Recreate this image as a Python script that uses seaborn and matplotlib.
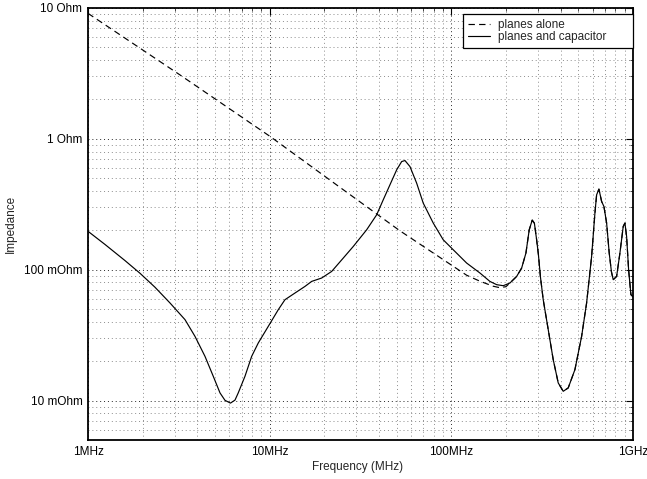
import numpy as np
import pandas as pd
import matplotlib
matplotlib.use("Agg")
import matplotlib.pyplot as plt
import matplotlib.ticker as mticker
import seaborn as sns

# Frequency (MHz) and impedance (Ohm) of the power planes with a decoupling capacitor
freq_cap = [1.000, 1.2405, 1.5979, 1.9325, 2.3373, 2.8276, 3.4197, 3.8810, 4.4051,
            4.8931, 5.3285, 5.6754, 6.0831, 6.4433, 6.7143, 7.3115, 7.9603, 8.6553,
            9.8243, 11.153, 12.139, 13.785, 15.643, 17.024, 19.325, 21.941, 25.417,
            28.851, 34.19, 38.81, 42.19, 45.93, 50.02, 53.29, 55.56, 59.18, 64.43,
            70.03, 79.51, 90.23, 102.44, 121.4, 143.7, 163.1, 177.6, 193.1, 210.2,
            228.8, 243.8, 257.4, 268.4, 278.8, 286.6, 294.8, 301.6, 309.3, 320.5,
            341.5, 363.8, 387.6, 413.0, 439.9, 478.9, 521.4, 555.4, 591.8, 617.2,
            630.6, 649.3, 671.9, 691.8, 715.8, 739.8, 760.7, 778.3, 812.5, 847.2,
            883.4, 902.6, 922.2, 945.9, 974.0, 1000.0]
z_cap = [0.1967, 0.1560, 0.1175, 0.0940, 0.0735, 0.0557, 0.04155, 0.03096, 0.02179,
         0.01533, 0.01145, 0.01005, 0.00957, 0.01009, 0.01145, 0.01533, 0.02179,
         0.02757, 0.03692, 0.04952, 0.05902, 0.0664, 0.07457, 0.08143, 0.08643,
         0.09705, 0.1228, 0.1506, 0.2020, 0.2629, 0.3423, 0.4456, 0.5800, 0.6710,
         0.6830, 0.6146, 0.4590, 0.3230, 0.2273, 0.1694, 0.1421, 0.1125, 0.0944,
         0.0814, 0.0769, 0.0755, 0.0792, 0.0889, 0.1030, 0.1341, 0.2020, 0.2395,
         0.2265, 0.1694, 0.1302, 0.0884, 0.0590, 0.03483, 0.02056, 0.01365, 0.01178,
         0.01250, 0.01724, 0.03096, 0.0557, 0.1263, 0.2709, 0.3737, 0.4130, 0.3322,
         0.3042, 0.2273, 0.1341, 0.0966, 0.0839, 0.0889, 0.1341, 0.2141, 0.2273,
         0.1796, 0.1000, 0.0645, 0.0622]

# Planes alone: capacitive slope down to the first plane resonance, identical above it
freq_planes = [1.0, 3.209, 10.04, 24.37, 52.13, 92.2, 121.4, 143.7, 170.1, 185.1,
               199.7] + freq_cap[46:]
z_planes = [9.10, 3.08, 1.045, 0.4263, 0.1984, 0.1171, 0.0908, 0.0817, 0.0748,
            0.0729, 0.0742] + z_cap[46:]

x_ticks = [1, 10, 100, 1000]
x_tick_labels = ["1MHz", "10MHz", "100MHz", "1GHz"]
y_ticks = [0.01, 0.1, 1, 10]
y_tick_labels = ["10 mOhm", "100 mOhm", "1 Ohm", "10 Ohm"]

df_cap = pd.DataFrame({"freq": freq_cap, "z": z_cap})
df_planes = pd.DataFrame({"freq": freq_planes, "z": z_planes})

sns.set_style("white")
plt.rcParams["font.family"] = ["Liberation Sans", "DejaVu Sans"]
plt.rcParams["font.size"] = 8.5

fig = plt.figure(figsize=(6.47, 4.79), dpi=100)
ax = fig.add_axes([88 / 647, 1 - 440 / 479, 545 / 647, 432 / 479])

sns.lineplot(data=df_planes, x="freq", y="z", ax=ax, color="black", lw=0.85,
             linestyle=(0, (5.4, 3.6)), label="planes alone", sort=False,
             estimator=None)
sns.lineplot(data=df_cap, x="freq", y="z", ax=ax, color="black", lw=0.85,
             label="planes and capacitor", sort=False, estimator=None)

ax.set_xscale("log")
ax.set_yscale("log")
ax.set_xlim(1, 1000)
ax.set_ylim(0.005, 10)

ax.set_xticks(x_ticks)
ax.set_xticklabels(x_tick_labels)
ax.set_yticks(y_ticks)
ax.set_yticklabels(y_tick_labels)
ax.xaxis.set_minor_locator(mticker.LogLocator(base=10, subs=np.arange(2, 10)))
ax.yaxis.set_minor_locator(mticker.LogLocator(base=10, subs=np.arange(2, 10)))
ax.xaxis.set_minor_formatter(mticker.NullFormatter())
ax.yaxis.set_minor_formatter(mticker.NullFormatter())

ax.tick_params(which="major", direction="in", length=5, width=0.8,
               top=True, right=True, labelsize=8.5, pad=4, colors="black")
ax.tick_params(which="minor", direction="in", length=2.5, width=0.6,
               top=True, right=True)

# sparse dotted grid: darker on decades, lighter on the minor lines
ax.grid(True, which="major", linestyle=(0, (1, 3)), color="0.15", lw=0.7)
ax.grid(True, which="minor", linestyle=(0, (1, 3)), color="0.55", lw=0.7)
ax.set_axisbelow(True)

for sp in ax.spines.values():
    sp.set_visible(True)
    sp.set_color("black")
    sp.set_linewidth(1.3)

ax.set_xlabel("Frequency (MHz)", fontsize=8.5)
ax.set_ylabel("Impedance", fontsize=8.5)
ax.xaxis.set_label_coords(0.494, -0.049)
ax.yaxis.set_label_coords(-0.131, 0.5)

leg_w = 170 / 545
leg = ax.legend(loc="upper right", bbox_to_anchor=(1 - leg_w, 0, leg_w, 1 - 6 / 432),
                mode="expand", borderaxespad=0, fancybox=False, framealpha=1,
                edgecolor="black", fontsize=8.5, handlelength=1.9,
                handletextpad=0.7, labelspacing=0.05, borderpad=0.4)
leg.get_frame().set_linewidth(0.9)

fig.savefig("out.png", dpi=100)
